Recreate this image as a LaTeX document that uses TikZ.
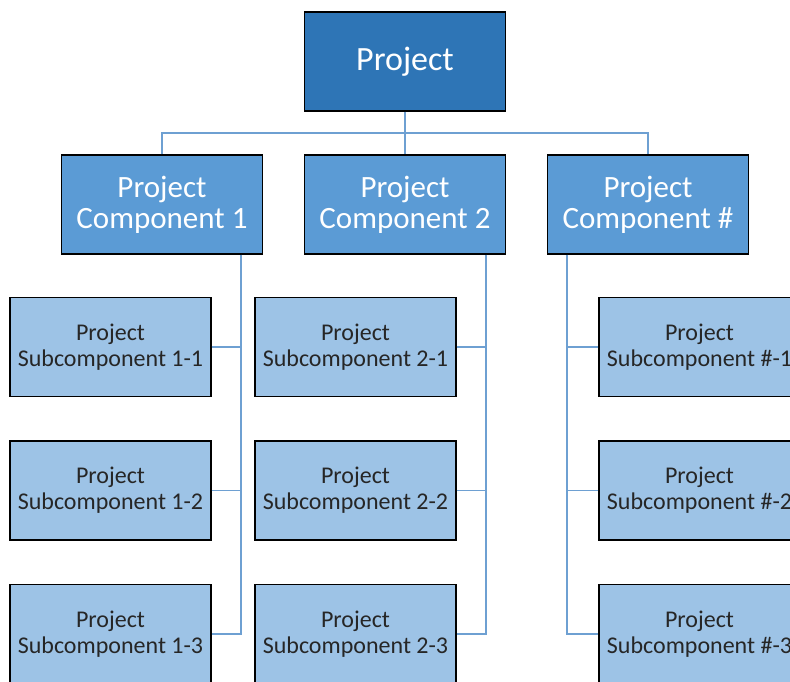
\documentclass[tikz,border=0pt]{standalone}
\usepackage{fontspec}
\setmainfont{Carlito}
\definecolor{topfill}{RGB}{46,117,182}
\definecolor{compfill}{RGB}{91,155,213}
\definecolor{subfill}{RGB}{157,195,230}
\definecolor{linkcol}{RGB}{110,160,210}
\definecolor{subtext}{RGB}{38,38,38}
\tikzset{
  box/.style={draw=black, line width=1.3pt, minimum width=201pt, minimum height=99pt,
    inner sep=0pt, align=center},
  topbox/.style={box, fill=topfill, text=white, font=\fontsize{34}{36}\selectfont},
  compbox/.style={box, fill=compfill, text=white, font=\fontsize{31}{31}\selectfont},
  subbox/.style={box, fill=subfill, text=subtext, font=\fontsize{24}{26}\selectfont},
  link/.style={draw=linkcol, line width=1.6pt}
}
\begin{document}
\begin{tikzpicture}[x=1pt, y=-1pt]
  \useasboundingbox (0,0) rectangle (790,681);
  \clip (0,0) rectangle (790,681);

  % top level
  \node[topbox] (top) at (405,61.5) {Project};

  % components
  \node[compbox] (c1) at (162,204.5) {Project\\Component 1};
  \node[compbox] (c2) at (405,204.5) {Project\\Component 2};
  \node[compbox] (c3) at (648,204.5) {Project\\Component \#};

  % subcomponents
  \foreach \r/\y in {1/347,2/490.5,3/634}{
    \node[subbox] (s1\r) at (110.5,\y) {Project\\Subcomponent 1-\r};
    \node[subbox] (s2\r) at (355.5,\y) {Project\\Subcomponent 2-\r};
    \node[subbox] (s3\r) at (699.5,\y) {Project\\Subcomponent \#-\r};
  }

  % connectors from the top box to the components
  \coordinate (hub) at (405,133);
  \draw[link] (top.south) -- (hub);
  \draw[link] (c1.north) |- (hub) -| (c3.north);
  \draw[link] (hub) -- (c2.north);

  % spines from the components to their subcomponents
  \coordinate (sp1) at ([xshift=-22pt]c1.south east);
  \coordinate (sp2) at ([xshift=-20pt]c2.south east);
  \coordinate (sp3) at ([xshift=20pt]c3.south west);
  \draw[link] (sp1) |- (s13.east);
  \draw[link] (sp2) |- (s23.east);
  \draw[link] (sp3) |- (s33.west);
  \foreach \r in {1,2}{
    \draw[link] (s1\r.east) -- (s1\r.east -| sp1);
    \draw[link] (s2\r.east) -- (s2\r.east -| sp2);
    \draw[link] (s3\r.west) -- (s3\r.west -| sp3);
  }
\end{tikzpicture}
\end{document}
